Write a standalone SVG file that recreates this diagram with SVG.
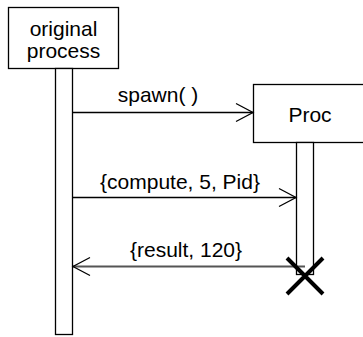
<svg xmlns="http://www.w3.org/2000/svg" width="363" height="337" viewBox="0 0 363 337">
<style>
.box{fill:#fff;stroke:#000;stroke-width:1.3}
.t{font-family:"Liberation Sans",Arial,sans-serif;font-size:21px;fill:#000;text-anchor:middle}
.msg{stroke:#000;stroke-width:1.3;fill:none}
.ret{stroke:#555;stroke-width:2;fill:none}
.head{stroke:#000;stroke-width:1.3;fill:none}
</style>
<rect width="363" height="337" fill="#fff"/>
<g id="original">
<rect class="box" x="8.5" y="7.5" width="110" height="61"/>
<text class="t" x="63.5" y="36">original</text>
<text class="t" x="63.5" y="58">process</text>
<rect class="box" x="55.5" y="68.5" width="17" height="266"/>
</g>
<g id="proc">
<rect class="box" x="253.5" y="84.5" width="120" height="58"/>
<text class="t" x="310" y="122">Proc</text>
<rect class="box" x="296.5" y="142.5" width="17" height="132"/>
</g>
<g id="connectors">
<line class="msg" x1="72.5" y1="112.5" x2="253" y2="112.5"/>
<polyline class="head" points="236,103.5 253,112.5 236,121.5"/>
<text class="t" x="158" y="102">spawn( )</text>
<line class="msg" x1="72.5" y1="197.5" x2="296" y2="197.5"/>
<polyline class="head" points="279,188.5 296,197.5 279,206.5"/>
<text class="t" x="180" y="188.5">{compute, 5, Pid}</text>
<line class="ret" x1="73" y1="266.5" x2="305" y2="266.5"/>
<polyline class="head" points="90,257.5 73,266.5 90,275.5"/>
<text class="t" x="186" y="257">{result, 120}</text>
<path d="M287,258 L323,294 M323,258 L287,294" stroke="#000" stroke-width="4" fill="none"/>
</g>
</svg>
